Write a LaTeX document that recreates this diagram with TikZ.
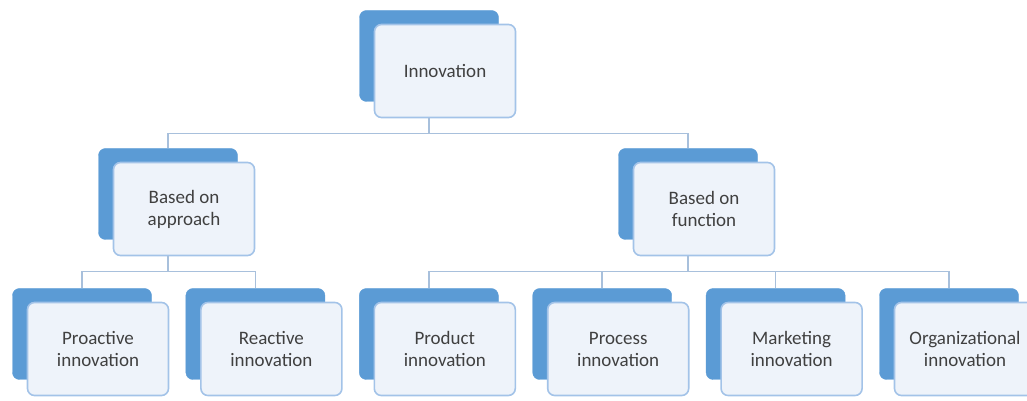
\documentclass[tikz,border=0pt]{standalone}
\usepackage{fontspec}
\setmainfont{Carlito}
\definecolor{accent}{HTML}{5B9BD5}
\definecolor{paleblue}{HTML}{EEF3FA}
\definecolor{edgeblue}{HTML}{A3C3E8}
\definecolor{linkblue}{HTML}{A8C0DC}
\definecolor{textgray}{HTML}{404040}

\begin{document}
\begin{tikzpicture}[
      x=1pt, y=1pt,
      backbox/.style={draw=accent, fill=accent, rounded corners=7pt,
                      minimum width=139pt, minimum height=91pt, inner sep=0pt},
      frontbox/.style={draw=edgeblue, line width=1.6pt, fill=paleblue,
                       rounded corners=7pt, minimum width=141pt, minimum height=93pt,
                       inner sep=0pt, align=center, text=textgray,
                       font=\fontsize{19}{22}\selectfont},
      link/.style={draw=linkblue, line width=1.5pt}
    ]
      \useasboundingbox (0,0) rectangle (1027,401);
      % root
      \node[backbox] (innov-b) at (429,345) {};
      \node[frontbox] (innov) at (445,330) {Innovation};
      % second level
      \node[backbox] (approach-b) at (168,207) {};
      \node[frontbox] (approach) at (184,192) {Based on\\approach};
      \node[backbox] (function-b) at (688,207) {};
      \node[frontbox] (function) at (704,192) {Based on\\function};
      % third level
      \foreach \name/\txt [count=\k from 0] in {proactive/Proactive, reactive/Reactive,
          product/Product, process/Process, marketing/Marketing,
          organizational/Organizational} {
        \pgfmathsetmacro{\xx}{82+173.4*\k}
        \node[backbox] (\name-b) at (\xx,67) {};
        \node[frontbox] (\name) at (\xx+16,52) {\txt\\innovation};
      }
      % connectors
      \foreach \kid in {approach,function}
        \draw[link] (innov-b |- innov.south) -- ++(0,-15) -| (\kid-b.north);
      \foreach \kid in {proactive,reactive}
        \draw[link] (approach-b |- approach.south) -- ++(0,-15) -| (\kid-b.north);
      \foreach \kid in {product,process,marketing,organizational}
        \draw[link] (function-b |- function.south) -- ++(0,-15) -| (\kid-b.north);
    \end{tikzpicture}
\end{document}
